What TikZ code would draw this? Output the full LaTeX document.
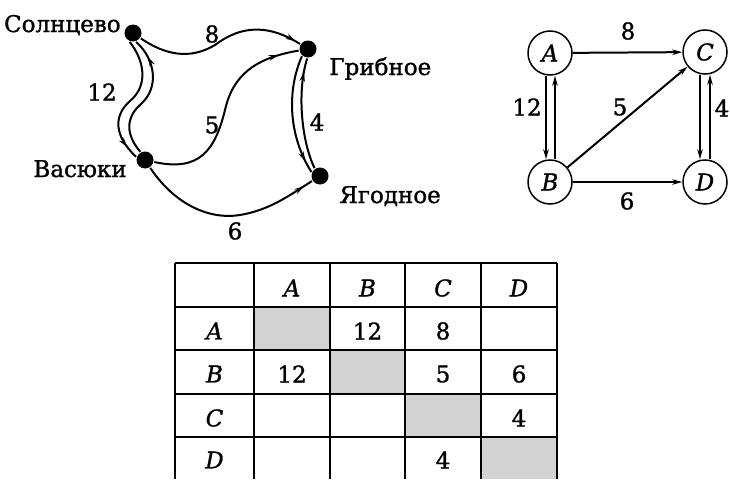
\documentclass[tikz,border=0pt]{standalone}
\usepackage{fontspec}
\setmainfont{DejaVu Serif}[BoldFont={DejaVu Serif}, BoldFeatures={FakeBold=1.2},
    BoldItalicFont={DejaVu Serif Italic}, BoldItalicFeatures={FakeBold=1.2}]
\usetikzlibrary{arrows.meta,decorations.markings}

\begin{document}
\begin{tikzpicture}[x=1pt, y=-1pt, line width=2pt,
    font=\fontsize{23}{27}\selectfont\bfseries,
    >={Stealth[length=10pt,width=5.5pt]},
    town node/.style={circle,fill,inner sep=0pt,minimum size=17pt},
    main node/.style={circle,draw,line width=1.5pt,minimum size=44pt,inner sep=0pt,font=\fontsize{23}{27}\selectfont\bfseries\itshape},
    letter/.style={font=\fontsize{23}{27}\selectfont\bfseries\itshape},
    tip at/.style={postaction={decorate},decoration={markings,mark=at position #1 with {\arrow{Stealth[length=10pt,width=5.5pt]}}}},
    cell gray/.style={fill=gray!35}]

    \useasboundingbox (0,0) rectangle (730,479);

    % towns
    \node[town node] at (133,33) (sol) {};
    \node[town node] at (308,49) (grib) {};
    \node[town node] at (145,160) (vas) {};
    \node[town node] at (320,176) (yag) {};

    \node[anchor=base east] at (125,32) (sol label) {Солнцево};
    \node[anchor=base west] at (325,75) (grib label) {Грибное};
    \node[anchor=base east] at (131,177) (vas label) {Васюки};
    \node[anchor=base west] at (335,203) (yag label) {Ягодное};

    \draw[tip at=0.97] (sol) .. controls (165,55) and (190,60) .. (215,45) .. controls (235,30) and (262,20) .. (grib);
    \draw[tip at=0.9] (sol.250) .. controls (144,60) and (149,85) .. (130,101) .. controls (114,115) and (113,135) .. (vas.160);
    \draw[tip at=0.85] (vas.120) .. controls (126,135) and (125,118) .. (141,104) .. controls (159,88) and (156,60) .. (sol.290);
    \draw[tip at=0.9] (vas) .. controls (200,172) and (215,150) .. (225,110) .. controls (233,75) and (255,58) .. (grib);
    \draw[tip at=0.9] (grib.230) .. controls (287,90) and (288,135) .. (yag.155);
    \draw[tip at=0.88] (yag.125) .. controls (301,140) and (297,90) .. (grib.265);
    \draw[tip at=0.95] (vas) .. controls (175,205) and (210,220) .. (240,215) .. controls (270,210) and (290,195) .. (yag);

    \node at (212,34) (w sg) {8};
    \node at (102,92) (w sv) {12};
    \node at (212,125) (w vg) {5};
    \node at (317,122) (w gy) {4};
    \node at (235,231) (w vy) {6};

    % graph with letters
    \node[main node] at (550,53) (A) {A};
    \node[main node] at (705,52) (C) {C};
    \node[main node] at (550,182) (B) {B};
    \node[main node] at (705,182) (D) {D};

    \draw[->] (A) -- (C);
    \draw[->] ([xshift=-4pt]A.south) -- ([xshift=-4pt]B.north);
    \draw[->] ([xshift=5pt]B.north) -- ([xshift=5pt]A.south);
    \draw[->] (B) -- (C);
    \draw[->] (B) -- (D);
    \draw[->] ([xshift=-5pt]C.south) -- ([xshift=-5pt]D.north);
    \draw[->] ([xshift=5pt]D.north) -- ([xshift=5pt]C.south);

    \node at (628,31) (w ac) {8};
    \node at (527,107) (w ab) {12};
    \node at (620,107) (w bc) {5};
    \node at (627,201) (w bd) {6};
    \node at (722,108) (w cd) {4};

    % table
    \foreach \xa/\xb/\ya/\yb in {254/330/307/350, 330/405/350/394, 405/481/394/437, 481/557/437/479}
        \fill[cell gray] (\xa,\ya) rectangle (\xb,\yb);
    \foreach \x in {175,254,330,405,481,557}
        \draw[line width=1.5pt] (\x,263) -- (\x,479);
    \foreach \y in {263,307,350,394,437}
        \draw[line width=1.5pt] (175,\y) -- (557,\y);

    \foreach \l/\x in {A/292,B/367.5,C/443,D/519}
        \node[letter] at (\x,288) (col \l) {\l};
    \foreach \l/\y in {A/331,B/374,C/418,D/460}
        \node[letter] at (214.5,\y) (row \l) {\l};

    \node at (367.5,331) (t ab) {12};
    \node at (443,331) (t ac) {8};
    \node at (292,374) (t ba) {12};
    \node at (443,374) (t bc) {5};
    \node at (519,374) (t bd) {6};
    \node at (519,418) (t cd) {4};
    \node at (443,460) (t dc) {4};
\end{tikzpicture}
\end{document}
